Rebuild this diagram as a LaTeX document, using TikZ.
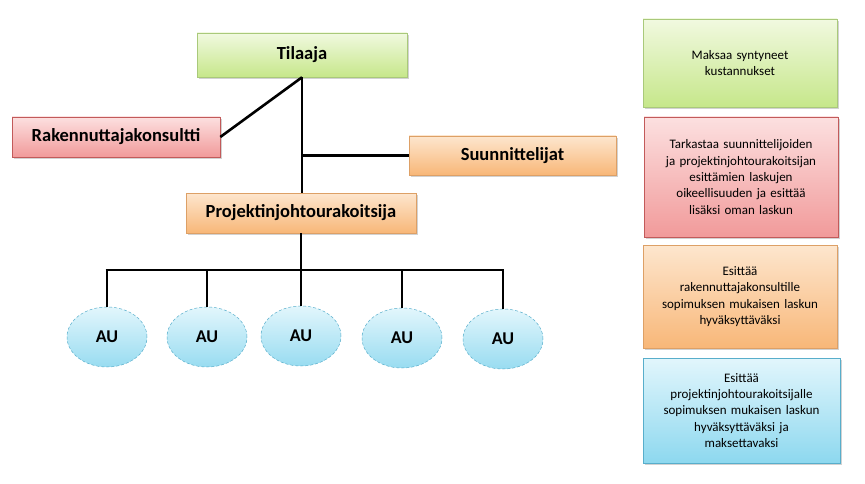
\documentclass[tikz,border=0pt]{standalone}
\usepackage{fontspec}
\setmainfont{Carlito}
\usetikzlibrary{shadows,shapes.geometric}
\definecolor{grT}{HTML}{F1F9E0}\definecolor{grB}{HTML}{C6E78A}\definecolor{grD}{HTML}{A9C97A}
\definecolor{rdT}{HTML}{FCE0E0}\definecolor{rdB}{HTML}{F19A9A}\definecolor{rdD}{HTML}{C25A5A}
\definecolor{orT}{HTML}{FDE6CE}\definecolor{orB}{HTML}{F8B778}\definecolor{orD}{HTML}{DDA066}
\definecolor{blT}{HTML}{E2F6FC}\definecolor{blB}{HTML}{8DD8EF}\definecolor{blD}{HTML}{58AECB}
\tikzset{
  box/.style={rectangle, draw=#1D, line width=0.6pt, top color=#1T, bottom color=#1B,
    drop shadow={shadow xshift=1.5pt, shadow yshift=-2pt, fill=black!35, opacity=0.5},
    inner sep=2pt},
  lbox/.style={box=#1, font=\fontsize{18.5}{21}\selectfont\bfseries},
  rbox/.style={box=#1, font=\fontsize{13}{16.3}\selectfont, align=center,
    minimum width=194pt, text width=188pt},
  au/.style={ellipse, draw=blD, line width=0.5pt, densely dashed, top color=blT, bottom color=blB!90,
    minimum width=80pt, minimum height=60pt, inner sep=0pt,
    font=\fontsize{18}{20}\selectfont\bfseries},
  conn/.style={line width=2.6pt, black}
}
\begin{document}
\begin{tikzpicture}[x=1pt,y=-1pt]
\useasboundingbox (0,0) rectangle (865,484);
% left nodes
\node[lbox=gr, minimum width=210pt, minimum height=44pt] (til) at (302,55) {Tilaaja};
\node[lbox=rd, minimum width=208pt, minimum height=40pt] (rak) at (116,137) {Rakennuttajakonsultti};
\node[lbox=or, minimum width=207pt, minimum height=39pt] (suu) at (512.5,155.5) {Suunnittelijat};
\node[lbox=or, minimum width=230pt, minimum height=40pt] (pjo) at (301,213) {Projektinjohtourakoitsija};
\node[au] (au1) at (107,337) {AU};
\node[au] (au2) at (207,337) {AU};
\node[au] (au3) at (301,336) {AU};
\node[au] (au4) at (402,338) {AU};
\node[au] (au5) at (503,339) {AU};
\coordinate (bar) at (301,270);
% connectors
\draw[conn] (til.south) -- (til.south |- pjo.north);
\draw[conn] (til.south) -- (rak.east);
\draw[conn] (suu.west) -- (til.south |- suu.west);
\draw[conn] (pjo.south) -- (pjo.south |- bar);
\draw[conn] ([xshift=-1.3pt]au1.north |- bar) -- ([xshift=1.3pt]au5.north |- bar);
\foreach \i in {1,...,5} \draw[conn] (au\i.north) -- (au\i.north |- bar);
% right boxes
\node[rbox=gr, minimum height=88pt] (r1) at (740,63) {Maksaa syntyneet\\kustannukset};
\node[rbox=rd, minimum height=120pt] (r2) at (741,177) {Tarkastaa suunnittelijoiden\\ja projektinjohtourakoitsijan\\esittämien laskujen\\oikeellisuuden ja esittää\\lisäksi oman laskun};
\node[rbox=or, minimum height=103pt] (r3) at (740,296.5) {Esittää\\rakennuttajakonsultille\\sopimuksen mukaisen laskun\\hyväksyttäväksi};
\node[rbox=bl, minimum height=105pt, minimum width=197pt] (r4) at (741.5,410.5) {Esittää\\projektinjohtourakoitsijalle\\sopimuksen mukaisen laskun\\hyväksyttäväksi ja\\maksettavaksi};
\end{tikzpicture}
\end{document}
